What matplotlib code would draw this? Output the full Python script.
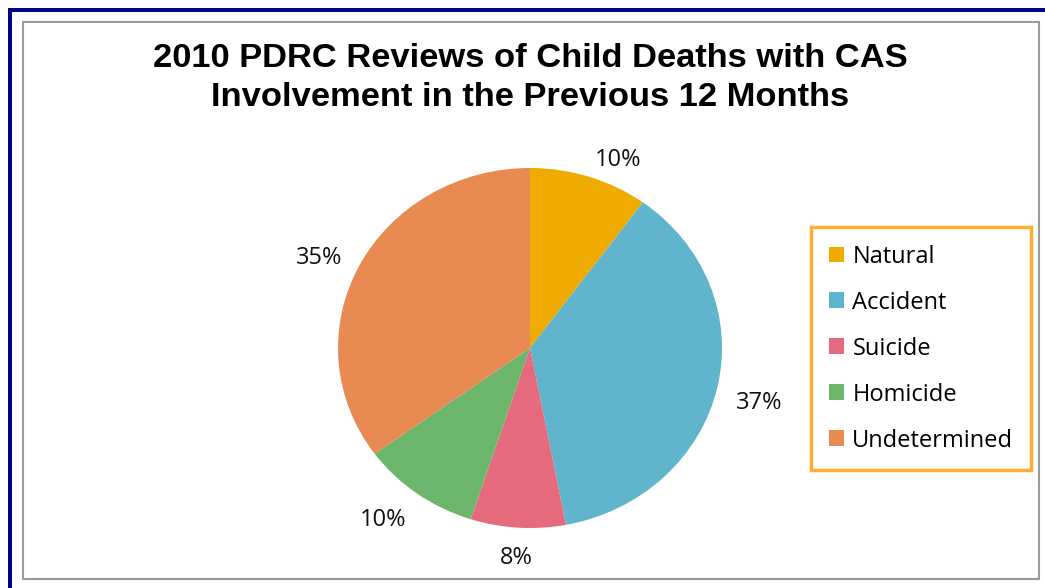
import matplotlib
matplotlib.use("Agg")
import matplotlib.pyplot as plt
from matplotlib import font_manager
from matplotlib.patches import Rectangle

# Cause-of-death breakdown (percent of reviewed deaths)
categories = ["Natural", "Accident", "Suicide", "Homicide", "Undetermined"]
percents = [10, 37, 8, 10, 35]
colors = ["#F0AB00", "#60B4CC", "#E66A7E", "#6BB66B", "#E88A52"]

title_text = "2010 PDRC Reviews of Child Deaths with CAS\nInvolvement in the Previous 12 Months"

W, H = 1045, 588


def title_font(size):
    # pick the regular-width Liberation Sans Bold file, not the Narrow one
    for path in font_manager.findSystemFonts():
        if path.endswith("LiberationSans-Bold.ttf"):
            return font_manager.FontProperties(fname=path, size=size)
    return font_manager.FontProperties(family="DejaVu Sans", weight="bold", size=size)


def main():
    fig = plt.figure(figsize=(W / 100, H / 100), dpi=100)
    fig.patch.set_facecolor("white")

    # Frame: thick navy edge on the left/top, thin gray chart border inside
    navy = "#00008B"
    fig.add_artist(Rectangle((8 / W, 0), 4 / W, 1 - 8 / H, transform=fig.transFigure,
                             facecolor=navy, edgecolor="none"))
    fig.add_artist(Rectangle((8 / W, 1 - 12 / H), 1 - 8 / W, 4 / H, transform=fig.transFigure,
                             facecolor=navy, edgecolor="none"))
    fig.add_artist(Rectangle((22.5 / W, 1 - 579 / H), (1039 - 22.5) / W, (579 - 21.5) / H,
                             transform=fig.transFigure, facecolor="none",
                             edgecolor="#9A9A9A", linewidth=1.5))

    fig.text(530 / W, 1 - 78 / H, title_text, ha="center", va="center",
             fontproperties=title_font(24.8), linespacing=1.3)

    # Pie axes: slightly wider than tall, like the original export
    rx, ry = 192, 180
    cx, cy = 530, 348
    ax = fig.add_axes([(cx - rx) / W, 1 - (cy + ry) / H, 2 * rx / W, 2 * ry / H])
    wedges, texts = ax.pie(
        percents,
        colors=colors,
        startangle=90,
        counterclock=False,
        labels=[f"{p}%" for p in percents],
        labeldistance=1.1,
        wedgeprops=dict(linewidth=0),
        textprops=dict(fontsize=17, family="Open Sans", color="#111111"),
    )
    # labels under the centre hang below their anchor; near-vertical ones are centred
    for t in texts:
        x, y = t.get_position()
        if y < 0:
            t.set_verticalalignment("top")
        if abs(x) < 0.2:
            t.set_horizontalalignment("center")
    ax.set_aspect("auto")
    ax.set_xlim(-1, 1)
    ax.set_ylim(-1, 1)
    ax.axis("off")

    leg = fig.legend(
        wedges, categories,
        loc="upper left",
        bbox_to_anchor=(811 / W, 1 - 227 / H),
        frameon=True,
        fancybox=False,
        prop=dict(family="Open Sans", size=17),
        handlelength=0.65,
        handleheight=0.65,
        handletextpad=0.35,
        labelspacing=0.93,
        borderpad=0.75,
        borderaxespad=0,
    )
    frame = leg.get_frame()
    frame.set_edgecolor("#FF9900")
    frame.set_linewidth(2.5)

    fig.savefig("out.png", dpi=100)
    plt.close(fig)


if __name__ == "__main__":
    main()
